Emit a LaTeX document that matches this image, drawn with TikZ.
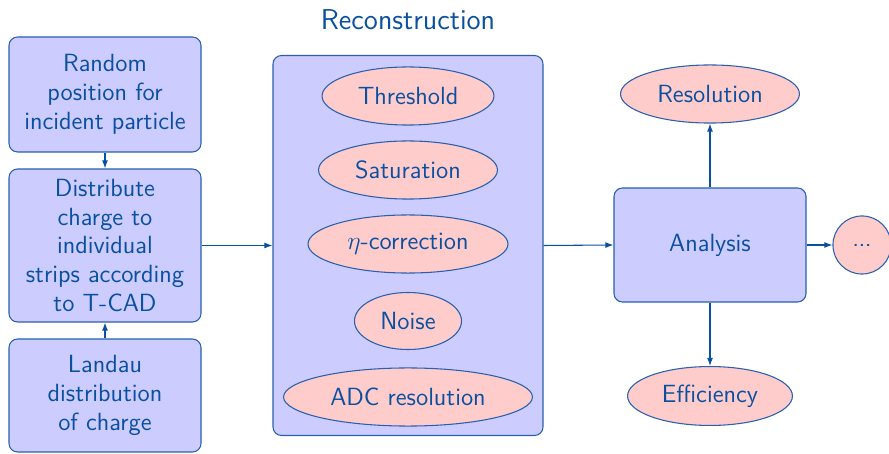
\documentclass[tikz,border=0pt]{standalone}
\usetikzlibrary{shapes.geometric,arrows.meta}
\definecolor{ink}{RGB}{10,80,160}
\definecolor{edge}{RGB}{40,95,175}
\definecolor{boxfill}{RGB}{204,204,255}
\definecolor{ovalfill}{RGB}{255,204,204}
\tikzset{
  base/.style={draw=edge, line width=0.5pt, text=ink, font=\sffamily\fontsize{11.7}{13.6}\selectfont, align=center, inner sep=0pt},
  stepbox/.style={base, rectangle, rounded corners=4pt, fill=boxfill},
  oval/.style={base, ellipse, fill=ovalfill, minimum height=27.3pt},
  link/.style={draw=ink, line width=0.5pt, -{Latex[length=3.8pt,width=2.8pt]}}
}
\begin{document}
\begin{tikzpicture}[x=0.47pt, y=-0.47pt]
  \useasboundingbox (0,0) rectangle (889,454);

  % title above the reconstruction block
  \node[text=ink, font=\sffamily\fontsize{13.5}{16}\selectfont] (title) at (408,20) {Reconstruction};

  % simulation chain on the left
  \node[stepbox, minimum width=90.24pt, minimum height=54.05pt] (rand) at (105,94.5)
    {Random\\position for\\incident particle};
  \node[stepbox, minimum width=90.24pt, minimum height=71.9pt] (dist) at (105,245.5)
    {Distribute\\charge to\\individual\\strips according\\to T-CAD};
  \node[stepbox, minimum width=90.24pt, minimum height=53.1pt] (landau) at (105,395.5)
    {Landau\\distribution\\of charge};

  % reconstruction block with its steps
  \node[stepbox, minimum width=126.9pt, minimum height=178.6pt] (reco) at (408,245.5) {};
  \node[oval, minimum width=80.8pt] (thr) at (408,96) {Threshold};
  \node[oval, minimum width=84.1pt] (sat) at (408,170) {Saturation};
  \node[oval, minimum width=94pt] (eta) at (408,244) {$\eta$-correction};
  \node[oval, minimum width=50.3pt, minimum height=26.8pt] (noise) at (408,321) {Noise};
  \node[oval, minimum width=117pt] (adc) at (408,397) {ADC resolution};

  % analysis and its outputs
  \node[stepbox, minimum width=90.24pt, minimum height=53.6pt] (ana) at (710,245) {Analysis};
  \node[oval, minimum width=84.1pt] (res) at (710,94) {Resolution};
  \node[oval, minimum width=77.5pt, minimum height=27.7pt] (eff) at (710,396) {Efficiency};
  \node[base, circle, fill=ovalfill, minimum size=27.3pt] (more) at (862,245)
    {.\kern-0.2pt.\kern-0.2pt.};

  % connectors
  \draw[link] (rand) -- (dist);
  \draw[link] (landau) -- (dist);
  \draw[link] (dist.east |- reco) -- (reco.west);
  \draw[link] (reco.east) -- (ana.west);
  \draw[link] (ana) -- (res);
  \draw[link] (ana) -- (eff);
  \draw[link] (ana) -- (more);
\end{tikzpicture}
\end{document}
